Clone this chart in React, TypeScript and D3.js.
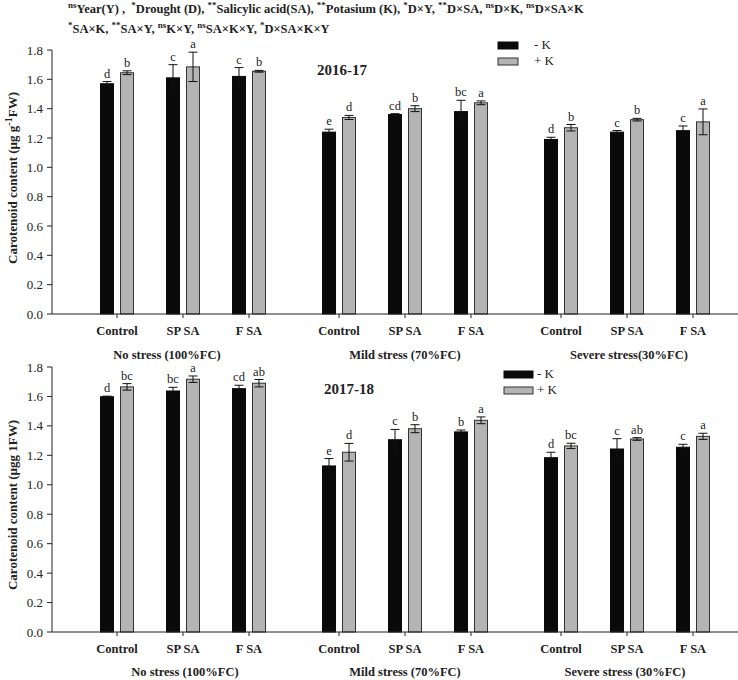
import React from "react";
import * as d3 from "d3";

const groups = ["No stress", "Mild stress", "Severe stress"];
const categories = ["Control", "SP SA", "F SA"];
const series = ["-K", "+K"];
const legendLabels = ["- K", "+ K"];

// 2016-17 values: [group][category] for -K and +K
const top_minusK = [[1.57, 1.61, 1.62], [1.24, 1.36, 1.38], [1.19, 1.24, 1.25]];
const top_plusK = [[1.645, 1.685, 1.655], [1.34, 1.40, 1.44], [1.27, 1.325, 1.31]];
const top_err_minusK = [[0.015, 0.09, 0.06], [0.02, 0.006, 0.077], [0.015, 0.011, 0.032]];
const top_err_plusK = [[0.013, 0.1, 0.006], [0.014, 0.02, 0.013], [0.022, 0.009, 0.088]];
const top_let_minusK = [["d", "c", "c"], ["e", "cd", "bc"], ["d", "c", "c"]];
const top_let_plusK = [["b", "a", "b"], ["d", "b", "a"], ["b", "b", "a"]];

// 2017-18 values
const bot_minusK = [[1.598, 1.637, 1.653], [1.128, 1.306, 1.359], [1.184, 1.243, 1.255]];
const bot_plusK = [[1.665, 1.717, 1.69], [1.221, 1.381, 1.438], [1.264, 1.311, 1.329]];
const bot_err_minusK = [[0.004, 0.025, 0.023], [0.05, 0.07, 0.013], [0.037, 0.07, 0.02]];
const bot_err_plusK = [[0.022, 0.022, 0.025], [0.06, 0.027, 0.023], [0.018, 0.009, 0.021]];
const bot_let_minusK = [["d", "bc", "cd"], ["e", "c", "b"], ["d", "c", "c"]];
const bot_let_plusK = [["bc", "a", "ab"], ["d", "b", "a"], ["bc", "ab", "a"]];

const yTicks = [0, 0.2, 0.4, 0.6, 0.8, 1.0, 1.2, 1.4, 1.6, 1.8];

const topGroupLabels = ["No stress (100%FC)", "Mild stress (70%FC)", "Severe stress(30%FC)"];
const botGroupLabels = ["No stress (100%FC)", "Mild stress (70%FC)", "Severe stress (30%FC)"];

const header1 = [
  ["ns", "Year(Y) ,  "], ["*", "Drought (D), "], ["**", "Salicylic acid(SA), "], ["**", "Potasium (K), "],
  ["*", "D×Y, "], ["**", "D×SA, "], ["ns", "D×K, "], ["ns", "D×SA×K"],
];
const header2 = [
  ["*", "SA×K, "], ["**", "SA×Y, "], ["ns", "K×Y, "], ["ns", "SA×K×Y, "], ["*", "D×SA×K×Y"],
];

const FONT = "'Liberation Serif', 'Times New Roman', serif";
const W = 738, H = 680;
const AXIS_X = 52;

const xGroup = d3.scaleBand().domain(groups).range([72, W]).paddingInner(0).paddingOuter(0);
const xCat = d3.scaleBand().domain(categories).range([-99, 99]);
const xSer = d3.scaleBand().domain(series).range([-16.5, 16.5]).paddingInner(0.35);
const catCenter = (g: string, c: string) => xGroup(g)! + xGroup.bandwidth() / 2 + xCat(c)! + xCat.bandwidth() / 2;

type PanelProps = {
  y0: number; y1: number; minusK: number[][]; plusK: number[][]; errM: number[][]; errP: number[][];
  letM: string[][]; letP: string[][]; year: string; yearX: number; yearY: number;
  catY: number; grpY: number; grpLabels: string[]; grpDx: number[]; yTitle: React.ReactNode;
  legX: number; legY: number; legW: number; legH: number; legGap: number; legTextX: number;
};

function Panel(p: PanelProps) {
  const y = d3.scaleLinear().domain([0, 1.8]).range([p.y0, p.y1]);
  const bars: React.ReactNode[] = [];
  groups.forEach((g, gi) => {
    categories.forEach((c, ci) => {
      const cx = catCenter(g, c);
      [
        { s: "-K", v: p.minusK[gi][ci], e: p.errM[gi][ci], l: p.letM[gi][ci], fill: "#0a0a0a", stroke: "#0a0a0a" },
        { s: "+K", v: p.plusK[gi][ci], e: p.errP[gi][ci], l: p.letP[gi][ci], fill: "#b4b4b4", stroke: "#333" },
      ].forEach((b) => {
        const x = cx + xSer(b.s)!;
        const bw = xSer.bandwidth();
        const mx = x + bw / 2;
        bars.push(
          <g key={`${g}-${c}-${b.s}`}>
            <rect x={x} y={y(b.v)} width={bw} height={p.y0 - y(b.v)} fill={b.fill} stroke={b.stroke} strokeWidth={1} />
            <line x1={mx} x2={mx} y1={y(b.v - b.e)} y2={y(b.v + b.e)} stroke="#111" strokeWidth={1} />
            <line x1={mx - 4.5} x2={mx + 4.5} y1={y(b.v + b.e)} y2={y(b.v + b.e)} stroke="#111" strokeWidth={1} />
            <line x1={mx - 4.5} x2={mx + 4.5} y1={y(b.v - b.e)} y2={y(b.v - b.e)} stroke="#111" strokeWidth={1} />
            <text x={mx} y={y(b.v + b.e) - 4} textAnchor="middle" fontSize={12.5} fontFamily={FONT} fill="#222">{b.l}</text>
          </g>
        );
      });
    });
  });
  return (
    <g>
      {bars}
      {/* y axis */}
      <line x1={AXIS_X} x2={AXIS_X} y1={y(0)} y2={y(1.8)} stroke="#222" strokeWidth={1} />
      {yTicks.map((t) => (
        <g key={t}>
          <line x1={AXIS_X - 5} x2={AXIS_X} y1={y(t)} y2={y(t)} stroke="#222" strokeWidth={1} />
          <text x={AXIS_X - 9} y={y(t) + 4.5} textAnchor="end" fontSize={13} fontFamily={FONT} fill="#222">{d3.format(".1f")(t)}</text>
        </g>
      ))}
      {/* x axis */}
      <line x1={AXIS_X} x2={W} y1={p.y0} y2={p.y0} stroke="#222" strokeWidth={1} />
      {groups.map((g, gi) => (
        <g key={g}>
          {categories.map((c) => (
            <g key={c}>
              <line x1={catCenter(g, c)} x2={catCenter(g, c)} y1={p.y0} y2={p.y0 + 4} stroke="#222" />
              <text x={catCenter(g, c)} y={p.catY} textAnchor="middle" fontSize={12.5} fontWeight="bold" fontFamily={FONT} fill="#222">{c}</text>
            </g>
          ))}
          <text x={xGroup(g)! + xGroup.bandwidth() / 2 + p.grpDx[gi]} y={p.grpY} textAnchor="middle" fontSize={12.5} fontWeight="bold" fontFamily={FONT} fill="#222">{p.grpLabels[gi]}</text>
        </g>
      ))}
      <text x={p.yearX} y={p.yearY} fontSize={15} fontWeight="bold" fontFamily={FONT} fill="#222">{p.year}</text>
      {/* legend */}
      {series.map((s, i) => (
        <g key={s}>
          <rect x={p.legX} y={p.legY + i * p.legGap} width={p.legW} height={p.legH} fill={i === 0 ? "#0a0a0a" : "#b4b4b4"} stroke={i === 0 ? "#0a0a0a" : "#333"} />
          <text x={p.legTextX} y={p.legY + i * p.legGap + p.legH} fontSize={13} fontFamily={FONT} fill="#222">{legendLabels[i]}</text>
        </g>
      ))}
      {p.yTitle}
    </g>
  );
}

function Header({ items, y }: { items: string[][]; y: number }) {
  return (
    <text x={68} y={y} fontSize={12.5} fontWeight="bold" fontFamily={FONT} fill="#222" xmlSpace="preserve">
      {items.map(([sup, txt], i) => (
        <React.Fragment key={i}>
          <tspan fontSize={9} dy={-5}>{sup}</tspan>
          <tspan dy={5} style={{ whiteSpace: "pre" }}>{txt}</tspan>
        </React.Fragment>
      ))}
    </text>
  );
}

export default function App() {
  return (
    <svg width={W} height={H} style={{ position: "absolute", left: 0, top: 0, background: "#fff" }}>
      <rect width={W} height={H} fill="#fff" />
      <Header items={header1} y={13} />
      <Header items={header2} y={33} />
      <Panel y0={314} y1={50} minusK={top_minusK} plusK={top_plusK} errM={top_err_minusK} errP={top_err_plusK}
        letM={top_let_minusK} letP={top_let_plusK} year="2016-17" yearX={317} yearY={75}
        catY={335} grpY={359} grpLabels={topGroupLabels} grpDx={[-16, 0, 2]}
        legX={498} legY={42} legW={20} legH={7} legGap={16} legTextX={534}
        yTitle={
          <text transform="translate(17,178) rotate(-90)" textAnchor="middle" fontSize={13} fontWeight="bold" fontFamily={FONT} fill="#222">
            Carotenoid content (µg g<tspan dy={-5} fontSize={10}>-1</tspan><tspan dy={5}>FW)</tspan>
          </text>
        } />
      <Panel y0={632} y1={367} minusK={bot_minusK} plusK={bot_plusK} errM={bot_err_minusK} errP={bot_err_plusK}
        letM={bot_let_minusK} letP={bot_let_plusK} year="2017-18" yearX={324} yearY={394}
        catY={653} grpY={676} grpLabels={botGroupLabels} grpDx={[2, 0, -2]}
        legX={504} legY={371} legW={29} legH={7} legGap={16} legTextX={537}
        yTitle={
          <text transform="translate(17,505) rotate(-90)" textAnchor="middle" fontSize={13} fontWeight="bold" fontFamily={FONT} fill="#222">
            Carotenoid content (µgg 1FW)
          </text>
        } />
    </svg>
  );
}
